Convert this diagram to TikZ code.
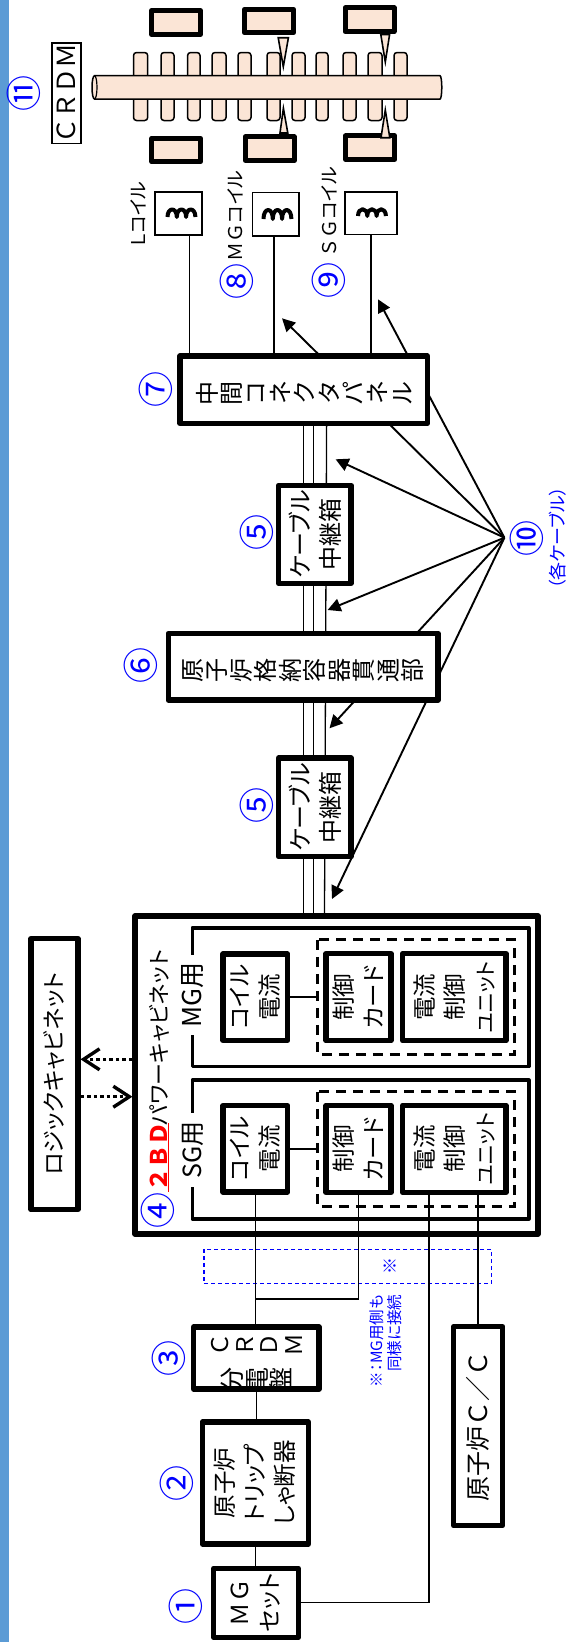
\documentclass[tikz,border=0pt]{standalone}
\usepackage{fontspec}
\setmainfont{Noto Sans CJK JP}[RawFeature=+palt]
\newfontfamily\fwfont{Noto Sans CJK JP}
\usetikzlibrary{arrows.meta,backgrounds}
\definecolor{peach}{HTML}{FBE5D6}
\definecolor{strip}{HTML}{5B9BD5}
\tikzset{
  hvbox/.style={draw, line width=5.4pt, fill=white, rotate=90, align=center, inner sep=0pt, line join=round, font=\fontsize{23.5}{30}\selectfont},
  frame/.style={draw, line width=3.8pt, rotate=90, line join=round},
  dashbox/.style={draw, line width=3pt, rotate=90, dash pattern=on 10pt off 7pt},
  thinbox/.style={draw, line width=1.6pt, fill=white, inner sep=0pt},
  magnet/.style={draw, line width=5pt, fill=peach, minimum width=49pt, minimum height=23.5pt, line join=round},
  fin/.style={draw, line width=1.5pt, fill=peach, rounded corners=3pt},
  needle/.style={draw, line width=1.6pt, fill=peach, line join=miter},
  lbl/.style={rotate=90, inner sep=0pt, align=center, font=\fontsize{#1}{#1}\selectfont},
  circnum/.style={rotate=90, inner sep=0pt, text=blue, font=\fontsize{36}{36}\selectfont},
  conn/.style={line width=1.3pt},
  ptr/.style={line width=1.9pt, -{Triangle[length=13pt,width=13pt]}},
  dotarrow/.style={line width=3.4pt, dash pattern=on 3.5pt off 3pt, -{Straight Barb[length=16pt,width=21pt,line width=3.4pt]}},
}
\begin{document}
\begin{tikzpicture}[x=1pt,y=-1pt]
\useasboundingbox (0,0) rectangle (569,1642);
\fill[strip] (0,0) rectangle (9,1642);
% CRDM
\node[thinbox, rotate=90, minimum width=100.5pt, minimum height=29pt, font=\fwfont\fontsize{25}{25}\selectfont] (crdm) at (66.3,93.3) {ＣＲＤＭ};
\node[circnum] (n11) at (24,93.3) {⑪};
\foreach \xa/\xb in {133.5/147.7,161/174,187.6/200,212/226,238/251,267/280,292/305,316/328,343/356,368/382,394/407}
  \draw[fin] (\xa,52.5) rectangle (\xb,120.5);
\draw[line width=1.5pt, fill=peach] (94.5,75.7) -- (440,75.7) arc[start angle=90,end angle=-90,x radius=1.8,y radius=-11.7] -- (94.5,99) arc[start angle=-90,end angle=-270,x radius=2.5,y radius=-11.65] -- cycle;
\draw[line width=1.2pt] (94.5,75.7) arc[start angle=90,end angle=-90,x radius=2.5,y radius=-11.65];
\foreach \mx/\my in {176/22.5,269/21,369.5/19.7,176.25/150,269.75/148.65,370.2/147.65}
  \node[magnet] (mag\mx) at (\mx,\my) {};
\draw[needle] (278.2,37.7) -- (288.4,37.7) -- (283.3,66.7) -- cycle;
\draw[needle] (380.8,34.5) -- (389.6,34.5) -- (385.3,62) -- cycle;
\draw[needle] (280,133) -- (287.8,133) -- (283.4,108.3) -- cycle;
\draw[needle] (381,137.7) -- (389.8,137.7) -- (385.3,110) -- cycle;
% coils
\node[thinbox, minimum width=47.4pt, minimum height=43.1pt] (coilL) at (178.5,213.35) {};
\node[thinbox, minimum width=46.9pt, minimum height=43.4pt] (coilM) at (275.75,214.2) {};
\node[thinbox, minimum width=52.1pt, minimum height=42.7pt] (coilS) at (370.85,213.15) {};
\foreach \cx/\cy in {167.5/217,263.5/219,358/216}
  \draw[line width=4pt, line join=round] (\cx,\cy) .. controls (\cx,207) and (\cx+9.3,207) .. (\cx+9.3,\cy) .. controls (\cx+9.3,207) and (\cx+18.6,207) .. (\cx+18.6,\cy) .. controls (\cx+18.6,207) and (\cx+27.9,207) .. (\cx+27.9,\cy);
\node[lbl=19] (lblL) at (138,214) {Ｌコイル};
\node[lbl=19] (lblM) at (235,216) {{\fwfont ＭＧ}コイル};
\node[lbl=19] (lblS) at (329,212.5) {{\fwfont ＳＧ}コイル};
\node[circnum] (n8) at (236.6,281) {⑧};
\node[circnum] (n9) at (328.7,280.3) {⑨};
% route of the cables
\node[hvbox, minimum width=67.3pt, minimum height=247.2pt] (panel) at (303.7,389.7) {};
\node[lbl=24, font=\fontsize{24}{24.4}\selectfont] (paneltxt) at (304,393) {中\\間\\コ\\ネ\\ク\\タ\\パ\\ネ\\ル};
\node[circnum] (n7) at (156,389) {⑦};
\node[hvbox, minimum width=97.9pt, minimum height=72.6pt, font=\fontsize{24}{30}\selectfont] (relayA) at (314.8,534.3) {ケーブル\\中継箱};
\node[circnum] (n5a) at (256.5,532) {⑤};
\node[hvbox, minimum width=66.6pt, minimum height=269.9pt] (pen) at (303.15,666.7) {};
\node[lbl=24, font=\fontsize{24}{24.5}\selectfont] (pentxt) at (303,670.5) {原\\子\\炉\\格\\納\\容\\器\\貫\\通\\部};
\node[circnum] (n6) at (141,665) {⑥};
\node[hvbox, minimum width=98.6pt, minimum height=72.6pt, font=\fontsize{24}{30}\selectfont] (relayB) at (314.8,807.3) {ケーブル\\中継箱};
\node[circnum] (n5b) at (256.5,805) {⑤};
% power cabinet
\node[hvbox, minimum width=318pt, minimum height=402.8pt] (pcab) at (336.5,1075) {};
\node[hvbox, minimum width=270.9pt, minimum height=46.8pt, font=\fontsize{23}{23}\selectfont] (logic) at (54.4,1074.1) {ロジックキャビネット};
\node[frame, minimum width=138.5pt, minimum height=336.2pt] (mgframe) at (360.5,997.15) {};
\node[frame, minimum width=138.6pt, minimum height=336.2pt] (sgframe) at (360.5,1149.5) {};
\node[lbl=26, fill=white, minimum width=80pt, minimum height=24pt] (mgtag) at (193,995) {MG用};
\node[lbl=25, fill=white, minimum width=74pt, minimum height=24pt] (sgtag) at (193,1150) {SG用};
\node[lbl=22] (pcabname) at (159,1037.5) {パワーキャビネット};
\node[lbl=23, text=red] (bd) at (159.5,1157) {\fwfont\bfseries\underline{２ＢＤ}};
\node[circnum] (n4) at (157.8,1210.7) {④};
\node[dashbox, minimum width=114.4pt, minimum height=197.3pt] (mgdash) at (415.85,997) {};
\node[dashbox, minimum width=114.4pt, minimum height=197.3pt] (sgdash) at (415.85,1149) {};
\foreach \pre/\yy in {mg/997.15,sg/1148.85}{
  \node[hvbox, minimum width=86.4pt, minimum height=64.6pt] (\pre coil) at (255.3,\yy) {コイル\\電流};
  \node[hvbox, minimum width=86.9pt, minimum height=65pt] (\pre card) at (358.5,\yy) {制御\\カード};
  \node[hvbox, minimum width=86.9pt, minimum height=103.3pt] (\pre unit) at (454.35,\yy) {電流\\制御\\{\fontsize{21}{30}\selectfont ユニット}};
  \draw[line width=1.8pt] (\pre coil.south) -- (\pre coil.south -| \pre dash.north);
}
% feed side
\node[lbl=23, font=\fwfont\fontsize{23}{24.6}\selectfont] (distCa) at (256.8,1345) {Ｃ\\Ｒ\\Ｄ\\Ｍ};
\node[lbl=25, font=\fontsize{25}{24.5}\selectfont] (distCb) at (256.5,1380) {分\\電\\盤};
\node[hvbox, minimum width=62pt, minimum height=125.5pt, fill=none] (distbox) at (256.35,1358) {};
\node[circnum] (n3) at (169,1358.3) {③};
\node[hvbox, minimum width=122pt, minimum height=106pt] (trip) at (255.3,1483) {原子炉\\トリップ\\しゃ断器};
\node[circnum] (n2) at (177,1483.3) {②};
\node[hvbox, minimum width=68.9pt, minimum height=84.6pt] (mgset) at (256,1602.85) {{\fwfont ＭＧ}\\セット};
\node[circnum] (n1) at (185.8,1606) {①};
\node[hvbox, minimum width=198.9pt, minimum height=49pt, font=\fontsize{25}{25}\selectfont] (rcc) at (478.2,1426.15) {原子炉{\fwfont Ｃ／Ｃ}};
% note
\node[draw=blue, line width=1.1pt, dash pattern=on 4pt off 3pt, minimum width=287.6pt, minimum height=34pt, inner sep=0pt] (notebox) at (347.8,1266.3) {};
\node[lbl=17, text=blue] (notemark) at (390,1266) {※};
\node[rotate=90, inner sep=0pt, text=blue, align=right, font=\fontsize{15.5}{18}\selectfont] (note) at (385.5,1341) {※：MG用側も\\同様に接続};
\node[circnum] (n10) at (527,538) {⑩};
\node[lbl=18, text=blue] (allcable) at (558,538) {（各ケーブル）};
\coordinate (hub) at (504.4,537.7);
% cables under the boxes
\begin{scope}[on background layer]
\draw[conn] (303.3,0 |- panel.west) -- (303.3,0 |- pcab.east);
\draw[conn] (313.5,0 |- panel.west) -- (313.5,0 |- pcab.east);
\draw[conn] (326.6,0 |- panel.west) -- (324.5,0 |- pcab.east);
\foreach \tx/\ty in {378/299.3,282/318.3,335.6/459.3,327.6/610,329.5/728.3,332/899}
  \draw[ptr] (hub) -- (\tx,\ty);
\end{scope}
\draw[conn] ([xshift=11pt]coilL.south) -- ([xshift=11pt]coilL.south |- panel.east);
\draw[conn] ([xshift=-1.75pt]coilM.south) -- ([xshift=-1.75pt]coilM.south |- panel.east);
\draw[conn] (coilS.south) -- (coilS.south |- panel.east);
\draw[dotarrow] (pcab.north |- 0,1059.3) -- (logic.south |- 0,1059.3);
\draw[dotarrow] (logic.south |- 0,1096.7) -- (pcab.north |- 0,1096.7);
\draw[conn] (sgcoil.west) -- (sgcoil.west |- distbox.east);
\draw[conn] (sgcard.west) |- (sgcoil.west |- 0,1299);
\draw[conn] ([xshift=-25.4pt]sgunit.west) |- (mgset.south |- 0,1602.7);
\draw[conn] ([xshift=23.5pt]sgunit.west) -- ([xshift=23.5pt]sgunit.west |- rcc.east);
\draw[conn] (distbox.west) -- (distbox.west |- trip.east);
\draw[conn] (trip.west) -- (trip.west |- mgset.east);
\end{tikzpicture}
\end{document}
